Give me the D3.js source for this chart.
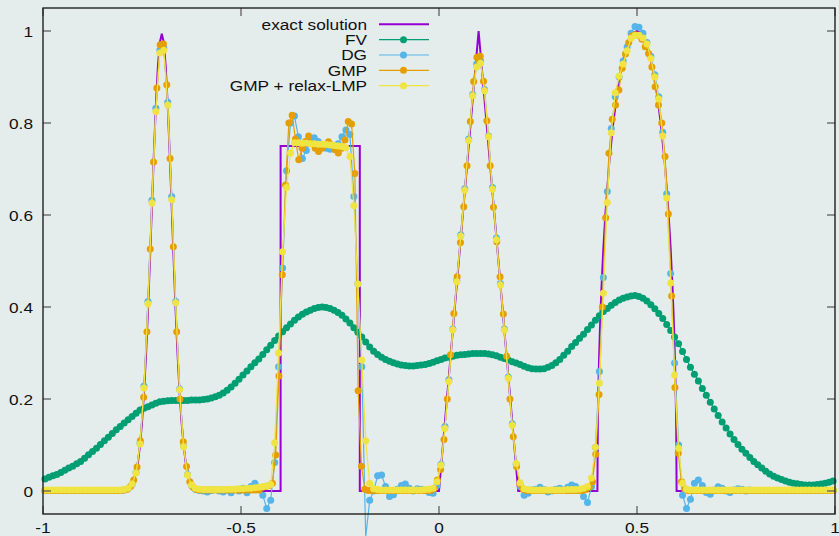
<!DOCTYPE html>
<html><head><meta charset="utf-8">
<script src="https://cdn.jsdelivr.net/npm/d3@7"></script>
<style>html,body{margin:0;padding:0;background:#e5ecec;}svg{display:block;}</style>
</head><body><svg id="c" width="839" height="536"></svg>
<script>
const xTicks = [-1, -0.5, 0, 0.5, 1];
const xTickLabels = ["-1", "-0.5", "0", "0.5", "1"];
const yTicks = [0, 0.2, 0.4, 0.6, 0.8, 1];
const yTickLabels = ["0", "0.2", "0.4", "0.6", "0.8", "1"];
const seriesNames = ["exact solution", "FV", "DG", "GMP", "GMP + relax-LMP"];

// exact solution (piecewise: gaussian, square, triangle, ellipse)
const exactX = [-1,-0.8,-0.79,-0.78,-0.77,-0.76,-0.755,-0.75,-0.745,-0.74,-0.735,-0.73,-0.725,-0.72,-0.715,-0.71,-0.705,-0.7,-0.695,-0.69,-0.685,-0.68,-0.675,-0.67,-0.665,-0.66,-0.655,-0.65,-0.645,-0.64,-0.63,-0.62,-0.61,-0.6,-0.4,-0.4,-0.2,-0.2,0,0.1,0.2,0.4,0.4,0.401,0.402,0.404,0.407,0.41,0.415,0.42,0.43,0.44,0.45,0.46,0.47,0.48,0.49,0.5,0.51,0.52,0.53,0.54,0.55,0.56,0.57,0.58,0.585,0.59,0.593,0.596,0.598,0.599,0.6,1];
const exactY = [0,0.001,0.002,0.008,0.024,0.064,0.100,0.149,0.213,0.294,0.391,0.501,0.618,0.733,0.837,0.921,0.975,0.994,0.975,0.921,0.837,0.733,0.618,0.501,0.391,0.294,0.213,0.149,0.100,0.064,0.024,0.008,0.002,0,0,0.75,0.75,0,0,1,0,0,0,0.141,0.199,0.280,0.368,0.436,0.527,0.600,0.714,0.800,0.866,0.917,0.954,0.980,0.995,1,0.995,0.980,0.954,0.917,0.866,0.800,0.714,0.600,0.527,0.436,0.368,0.280,0.199,0.141,0,0];

// 200-cell grid (FV, DG, relax) and 240-cell grid (GMP)
const coarseGrid = { n: 200, first: -0.995, step: 0.01 };
const fineGrid = { n: 240, first: -1 + 1 / 240, step: 1 / 120 };

const fvY = [
0.026,0.030,0.033,0.036,0.040,0.045,0.050,0.054,0.059,0.064,
0.071,0.079,0.086,0.093,0.101,0.109,0.117,0.125,0.133,0.140,
0.148,0.155,0.162,0.169,0.176,0.180,0.183,0.187,0.191,0.194,
0.195,0.196,0.197,0.197,0.197,0.197,0.197,0.198,0.198,0.198,
0.199,0.200,0.202,0.205,0.208,0.213,0.219,0.226,0.234,0.243,
0.252,0.261,0.270,0.279,0.287,0.297,0.307,0.317,0.327,0.337,
0.346,0.355,0.363,0.371,0.378,0.384,0.389,0.393,0.397,0.399,
0.400,0.399,0.397,0.393,0.388,0.382,0.374,0.365,0.355,0.345,
0.335,0.324,0.313,0.304,0.297,0.291,0.286,0.282,0.279,0.276,
0.274,0.273,0.272,0.272,0.273,0.274,0.275,0.277,0.280,0.283,
0.286,0.289,0.291,0.293,0.295,0.296,0.297,0.298,0.299,0.299,
0.299,0.299,0.298,0.296,0.294,0.291,0.288,0.285,0.281,0.278,
0.275,0.271,0.268,0.266,0.265,0.265,0.266,0.269,0.273,0.279,
0.286,0.295,0.304,0.314,0.323,0.332,0.341,0.351,0.361,0.371,
0.381,0.390,0.397,0.404,0.410,0.415,0.419,0.422,0.424,0.425,
0.423,0.419,0.413,0.405,0.396,0.386,0.375,0.362,0.349,0.335,
0.320,0.303,0.286,0.269,0.254,0.239,0.223,0.208,0.193,0.178,
0.164,0.150,0.137,0.124,0.112,0.101,0.091,0.082,0.073,0.064,
0.057,0.050,0.043,0.037,0.032,0.028,0.025,0.022,0.019,0.017,
0.016,0.014,0.013,0.013,0.013,0.014,0.015,0.017,0.019,0.022];

const dgY = [
0.001,0.001,0.001,0.001,0.001,0.001,0.001,0.001,0.001,0.001,
0.001,0.001,0.001,0.001,0.001,0.001,0.001,0.001,0.001,0.001,
0.002,0.005,0.014,0.040,0.104,0.228,0.412,0.632,0.832,0.958,
0.963,0.845,0.640,0.412,0.222,0.098,0.036,0.012,0.004,0.001,
0.000,-0.002,0.001,0.003,0.000,-0.002,0.002,-0.004,0.003,0.000,
0.006,-0.004,0.010,0.017,0.008,-0.009,-0.038,-0.020,0.062,0.270,
0.485,0.696,0.800,0.815,0.770,0.723,0.740,0.760,0.768,0.760,
0.750,0.745,0.743,0.748,0.755,0.770,0.785,0.775,0.640,0.450,
0.270,-0.100,-0.020,0.000,0.033,0.035,0.010,-0.012,-0.008,0.004,
0.012,0.015,0.006,0.000,0.005,0.004,0.002,-0.003,-0.005,0.012,
0.058,0.140,0.242,0.352,0.458,0.557,0.657,0.765,0.862,0.928,
0.935,0.873,0.772,0.660,0.550,0.451,0.352,0.248,0.146,0.058,
0.010,-0.009,-0.005,0.002,0.004,0.008,0.003,-0.002,0.000,0.004,
0.006,0.002,0.008,0.013,0.010,0.002,-0.012,-0.025,0.009,0.095,
0.260,0.464,0.651,0.788,0.857,0.900,0.935,0.965,0.995,1.010,
1.008,0.995,0.975,0.945,0.905,0.857,0.780,0.646,0.473,0.278,
0.100,-0.009,-0.038,-0.018,0.017,0.024,0.012,-0.003,-0.007,0.002,
0.009,0.006,0.000,-0.003,0.002,0.005,0.004,0.000,0.002,0.001,
0.001,0.001,0.001,0.001,0.001,0.001,0.001,0.001,0.001,0.001,
0.001,0.001,0.001,0.001,0.001,0.001,0.001,0.001,0.001,0.001];

const gmpY = [
0.001,0.001,0.001,0.001,0.001,0.001,0.001,0.001,0.001,0.001,0.001,0.001,
0.001,0.001,0.001,0.001,0.001,0.001,0.001,0.001,0.001,0.001,0.001,0.001,
0.002,0.004,0.010,0.024,0.052,0.109,0.204,0.346,0.526,0.715,
0.876,0.970,0.972,0.883,0.723,0.531,0.346,0.200,0.107,0.053,
0.020,0.008,0.003,
0.002,0.002,0.002,0.002,0.002,0.002,0.002,0.002,0.002,0.002,
0.002,0.002,0.002,0.002,0.002,0.002,0.002,0.002,0.002,
0.008,0.010,0.012,
0.017,0.078,0.250,0.470,0.665,0.800,0.817,0.765,0.720,0.745,
0.760,0.772,0.755,0.745,0.738,0.745,0.752,0.759,0.752,0.742,
0.735,0.745,0.763,0.803,0.798,0.690,0.218,0.054,0.004,
0.001,0.001,0.001,0.001,0.001,0.001,0.001,0.001,0.001,0.001,
0.001,0.001,0.001,0.001,0.001,0.001,0.001,0.001,0.001,0.001,
0.005,0.024,0.047,0.112,0.200,0.296,0.386,0.466,0.540,0.618,
0.707,0.803,0.890,0.943,0.945,0.891,0.805,0.707,0.617,0.542,
0.466,0.385,0.293,0.200,0.118,0.053,0.015,0.004,
0.001,0.001,0.001,0.001,0.001,0.001,0.001,0.001,0.001,
0.001,0.001,0.001,0.001,0.001,0.001,0.001,0.001,0.001,
0.003,0.008,0.020,0.080,0.210,0.400,0.594,0.734,0.808,0.839,
0.872,0.919,0.950,0.975,0.989,0.992,0.990,0.982,0.966,0.951,
0.922,0.879,0.839,0.800,0.727,0.602,0.424,0.225,0.082,0.020,
0.005,
0.001,0.001,0.001,0.001,0.001,0.001,0.001,0.001,0.001,0.001,
0.001,0.001,0.001,0.001,0.001,0.001,0.001,0.001,0.001,0.001,
0.001,0.001,0.001,0.001,0.001,0.001,0.001,0.001,0.001,0.001,
0.001,0.001,0.001,0.001,0.001,0.001,0.001,0.001,0.001,0.001,
0.001,0.001,0.001,0.001,0.001];

const relaxY = [
0.002,0.002,0.002,0.002,0.002,0.002,0.002,0.002,0.002,0.002,
0.002,0.002,0.002,0.002,0.002,0.002,0.002,0.002,0.002,0.002,
0.003,0.006,0.015,0.039,0.102,0.224,0.407,0.626,0.825,0.952,
0.958,0.839,0.633,0.409,0.220,0.096,0.035,0.013,0.006,0.004,
0.003,0.003,0.003,0.003,0.003,0.003,0.004,0.004,0.004,0.005,
0.005,0.006,0.006,0.007,0.008,0.009,0.011,0.014,0.105,0.300,
0.520,0.660,0.735,0.757,0.757,0.756,0.756,0.755,0.755,0.754,
0.754,0.753,0.752,0.751,0.750,0.749,0.746,0.727,0.620,0.450,
0.285,0.109,0.017,0.005,0.003,0.002,0.002,0.002,0.002,0.002,
0.002,0.002,0.002,0.002,0.002,0.002,0.003,0.004,0.006,0.020,
0.056,0.136,0.238,0.350,0.455,0.554,0.654,0.762,0.859,0.922,
0.930,0.870,0.770,0.656,0.546,0.448,0.350,0.245,0.143,0.060,
0.018,0.005,0.003,0.002,0.002,0.002,0.002,0.002,0.002,0.002,
0.002,0.002,0.003,0.003,0.003,0.004,0.006,0.010,0.028,0.095,
0.234,0.430,0.627,0.779,0.866,0.902,0.928,0.957,0.984,0.990,
0.991,0.985,0.972,0.940,0.900,0.852,0.772,0.637,0.452,0.252,
0.093,0.017,0.004,0.002,0.002,0.002,0.002,0.002,0.002,0.002,
0.002,0.002,0.002,0.002,0.002,0.002,0.002,0.002,0.002,0.002,
0.002,0.002,0.002,0.002,0.002,0.002,0.002,0.002,0.002,0.002,
0.002,0.002,0.002,0.002,0.002,0.002,0.002,0.002,0.002,0.002];

const colors = ["#9400d3", "#009e73", "#56b4e9", "#e69f00", "#f0e442"];

// ---------------- drawing ----------------
const W = 839, H = 536;
const L = 43, R = 835, T = 8, B = 514;
const FONT = "'Liberation Sans', Arial, Helvetica, sans-serif";
const FS = 15, SX = 1.15;

const svg = d3.select("#c");
const x = d3.scaleLinear().domain([-1, 1]).range([L, R]);
const y = d3.scaleLinear().domain([-0.05, 1.05]).range([B, T]);

svg.append("rect").attr("width", W).attr("height", H).attr("fill", "#e5ecec");

function gridX(g) { return d3.range(g.n).map(i => g.first + i * g.step); }
const xc = gridX(coarseGrid), xf = gridX(fineGrid);

const series = [
  { name: seriesNames[1], xs: xc, ys: fvY, color: colors[1] },
  { name: seriesNames[2], xs: xc, ys: dgY, color: colors[2] },
  { name: seriesNames[3], xs: xf, ys: gmpY, color: colors[3] },
  { name: seriesNames[4], xs: xc, ys: relaxY, color: colors[4] }
];

const plot = svg.append("g");
const line = d3.line().x(d => x(d[0])).y(d => y(d[1]));

plot.append("path")
  .attr("d", line(exactX.map((v, i) => [v, exactY[i]])))
  .attr("fill", "none").attr("stroke", colors[0]).attr("stroke-width", 2)
  .attr("stroke-linejoin", "miter");

series.forEach(s => {
  const pts = s.xs.map((v, i) => [v, s.ys[i]]);
  const g = plot.append("g");
  g.append("path").attr("d", line(pts)).attr("fill", "none")
    .attr("stroke", s.color).attr("stroke-width", 1.2);
  g.selectAll("circle").data(pts.filter(d => d[1] >= -0.05)).join("circle")
    .attr("cx", d => x(d[0])).attr("cy", d => y(d[1])).attr("r", 3.5)
    .attr("fill", s.color);
});

// axes: ticks on all four sides, pointing inward
const tickCol = "#555", tickW = 1.2, tl = 8;
const axG = svg.append("g");
xTicks.forEach(t => {
  axG.append("line").attr("x1", x(t)).attr("x2", x(t)).attr("y1", B).attr("y2", B - tl)
    .attr("stroke", tickCol).attr("stroke-width", tickW);
  axG.append("line").attr("x1", x(t)).attr("x2", x(t)).attr("y1", T).attr("y2", T + tl)
    .attr("stroke", tickCol).attr("stroke-width", tickW);
});
yTicks.forEach(t => {
  axG.append("line").attr("x1", L).attr("x2", L + tl).attr("y1", y(t)).attr("y2", y(t))
    .attr("stroke", tickCol).attr("stroke-width", tickW);
  axG.append("line").attr("x1", R).attr("x2", R - tl).attr("y1", y(t)).attr("y2", y(t))
    .attr("stroke", tickCol).attr("stroke-width", tickW);
});
svg.append("rect").attr("x", L).attr("y", T).attr("width", R - L).attr("height", B - T)
  .attr("fill", "none").attr("stroke", "#222").attr("stroke-width", 1.4);

function label(px, py, str, anchor) {
  const g = svg.append("g").attr("transform", `translate(${px},${py}) scale(${SX},1)`);
  g.append("text").text(str).attr("text-anchor", anchor)
    .attr("font-family", FONT).attr("font-size", FS).attr("fill", "#111");
}
xTicks.forEach((t, i) => label(x(t), 533, xTickLabels[i], "middle"));
yTicks.forEach((t, i) => label(33, y(t) + 5.5, yTickLabels[i], "end"));

// legend
const legRight = 367, lx1 = 379, lx2 = 429, rowY0 = 24.3, rowDy = 15.35;
seriesNames.forEach((nm, i) => {
  const cy = rowY0 + i * rowDy;
  label(legRight, cy + 5.3, nm, "end");
  svg.append("line").attr("x1", lx1).attr("x2", lx2).attr("y1", cy).attr("y2", cy)
    .attr("stroke", colors[i]).attr("stroke-width", i === 0 ? 2 : 1.2);
  if (i > 0) svg.append("circle").attr("cx", (lx1 + lx2) / 2 - 0.5).attr("cy", cy)
    .attr("r", 3.5).attr("fill", colors[i]);
});
</script></body></html>
